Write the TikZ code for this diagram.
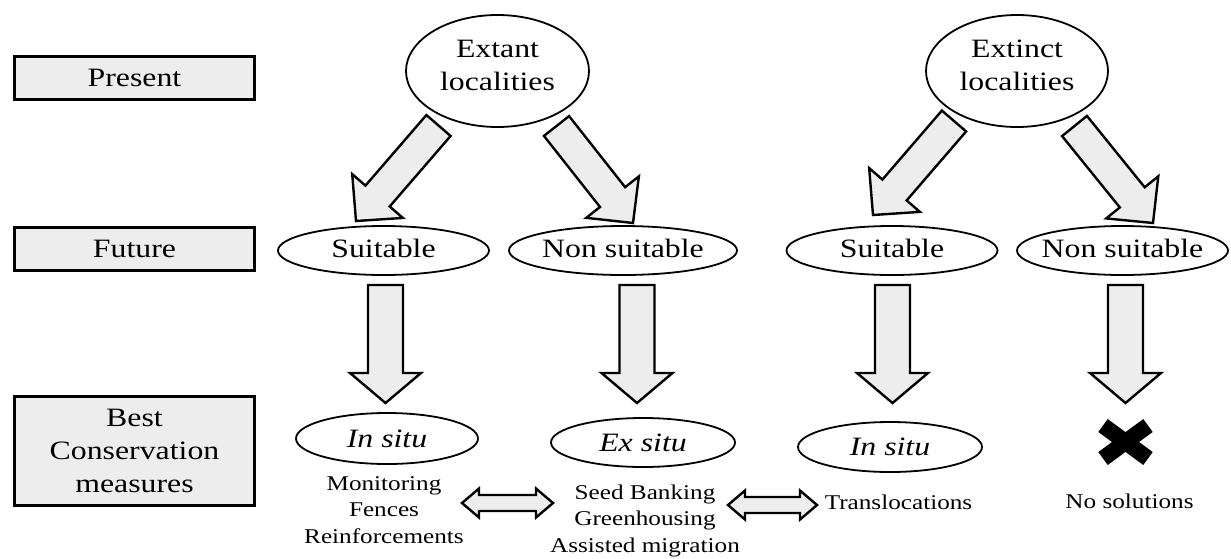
\documentclass[tikz,border=0pt]{standalone}
\usepackage{fontspec}
\setmainfont{Liberation Serif}[FakeStretch=1.2]
\usetikzlibrary{calc,shapes.geometric}
\definecolor{boxgray}{RGB}{237,237,237}
\newcommand\fntbig{\fontsize{26.5}{33}\selectfont}
\newcommand\fntsmall{\fontsize{21}{26.5}\selectfont}
% #1 tail, #2 tip, #3 half shaft width, #4 half head width, #5 head length
\newcommand\fatarrow[5]{%
  \coordinate (fabase) at ($(#2)!#5!(#1)$);
  \draw[fat] ($(#1)!#3!90:(#2)$) -- ($(fabase)!#3!90:(#2)$) -- ($(fabase)!#4!90:(#2)$)
    -- (#2) -- ($(fabase)!#4!-90:(#2)$) -- ($(fabase)!#3!-90:(#2)$)
    -- ($(#1)!#3!-90:(#2)$) -- cycle;}
% double-headed version: #1 and #2 are the two tips
\newcommand\fatdarrow[5]{%
  \coordinate (dba) at ($(#1)!#5!(#2)$);
  \coordinate (dbb) at ($(#2)!#5!(#1)$);
  \draw[fat] (#1) -- ($(dba)!#4!90:(#2)$) -- ($(dba)!#3!90:(#2)$)
    -- ($(dbb)!#3!-90:(#1)$) -- ($(dbb)!#4!-90:(#1)$) -- (#2)
    -- ($(dbb)!#4!90:(#1)$) -- ($(dbb)!#3!90:(#1)$)
    -- ($(dba)!#3!-90:(#2)$) -- ($(dba)!#4!-90:(#2)$) -- cycle;}
\begin{document}
\begin{tikzpicture}[x=1pt,y=-1pt,
  hdr/.style={draw, line width=3pt, fill=boxgray, minimum width=240pt,
    minimum height=43pt, inner sep=0pt, font=\fntbig, align=center},
  ell/.style={ellipse, draw, line width=1.8pt, fill=white, inner xsep=-20pt,
    inner ysep=0pt, font=\fntbig, align=center},
  lbl/.style={font=\fntsmall, align=center, inner sep=0pt},
  fat/.style={draw, line width=2.4pt, fill=boxgray, line join=miter}]
\useasboundingbox (0,0) rectangle (1231,558);

% row headers
\node[hdr] (present) at (134.5,78) {Present};
\node[hdr] (future) at (134.5,249) {Future};
\node[hdr, minimum height=109pt] (best) at (134.5,451) {Best\\Conservation\\measures};

% present
\node[ell, minimum width=183pt, minimum height=112pt, text depth=11pt] (ext) at (497.5,71) {Extant\\localities};
\node[ell, minimum width=182pt, minimum height=112pt, text depth=11pt] (exn) at (1017,71) {Extinct\\localities};

% future
\node[ell, minimum width=211pt, minimum height=49pt, text depth=5pt] (s1) at (383.5,250.5) {Suitable};
\node[ell, minimum width=228pt, minimum height=49pt, text depth=5pt] (n1) at (623,250.5) {Non suitable};
\node[ell, minimum width=211pt, minimum height=49pt, text depth=5pt] (s2) at (892,250.5) {Suitable};
\node[ell, minimum width=211pt, minimum height=49pt, text depth=5pt] (n2) at (1122.5,250.5) {Non suitable};

% measures
\node[ell, minimum width=182pt, minimum height=51pt] (is1) at (387,438.5) {\itshape In situ};
\node[ell, minimum width=184pt, minimum height=49pt] (ex) at (643,442.5) {\itshape Ex situ};
\node[ell, minimum width=184pt, minimum height=50pt] (is2) at (890,447) {\itshape In situ};
\node[minimum width=55pt, minimum height=46pt, inner sep=0pt] (x4) at (1125.5,442) {};
\draw[line width=16pt] ($(x4)+(-22.5,-16.5)$) -- ($(x4)+(22.5,16.5)$);
\draw[line width=16pt] ($(x4)+(-22.5,16.5)$) -- ($(x4)+(22.5,-16.5)$);

\node[lbl] (mon) at (384,510) {Monitoring\\Fences\\Reinforcements};
\node[lbl] (seed) at (645,520.7) {Seed Banking\\Greenhousing\\Assisted migration};
\node[lbl, anchor=base] (trans) at (898.5,509) {Translocations};
\node[lbl, anchor=base] (nosol) at (1129.5,508) {No solutions};

% diagonal arrows
\coordinate (a1a) at ($(ext)+(-59,54.5)$);  \coordinate (a1b) at ($(s1)+(-27.5,-29.5)$);
\coordinate (a2a) at ($(ext)+(59,55)$);     \coordinate (a2b) at ($(n1)+(10,-27.5)$);
\coordinate (a3a) at ($(exn)+(-63,50)$);    \coordinate (a3b) at ($(s2)+(-19,-35.5)$);
\coordinate (a4a) at ($(exn)+(57.5,55)$);   \coordinate (a4b) at ($(n2)+(30.5,-27.5)$);
\fatarrow{a1a}{a1b}{16pt}{33.5pt}{33pt}
\fatarrow{a2a}{a2b}{16pt}{33.5pt}{33pt}
\fatarrow{a3a}{a3b}{16pt}{33.5pt}{33pt}
\fatarrow{a4a}{a4b}{16pt}{33.5pt}{33pt}

% vertical arrows
\coordinate (v1a) at ($(s1)+(2,34.5)$);   \coordinate (v1b) at ($(is1)+(-1.5,-35.5)$);
\coordinate (v2a) at ($(n1)+(14,34.5)$);  \coordinate (v2b) at ($(ex)+(-6,-39.5)$);
\coordinate (v3a) at ($(s2)+(0.5,34.5)$); \coordinate (v3b) at ($(is2)+(2.5,-44)$);
\coordinate (v4a) at ($(n2)+(3,34.5)$);   \coordinate (v4b) at ($(x4)+(0,-39)$);
\fatarrow{v1a}{v1b}{17.5pt}{35.5pt}{30pt}
\fatarrow{v2a}{v2b}{17.5pt}{35.5pt}{30pt}
\fatarrow{v3a}{v3b}{17.5pt}{35.5pt}{30pt}
\fatarrow{v4a}{v4b}{17.5pt}{35.5pt}{30pt}

% double arrows
\coordinate (d1a) at ($(mon)+(78,-7)$);    \coordinate (d1b) at ($(seed)+(-92,-17.7)$);
\coordinate (d2a) at ($(seed)+(83,-15.7)$); \coordinate (d2b) at ($(trans)+(-81.5,3.2)$);
\fatdarrow{d1a}{d1b}{8pt}{14.5pt}{17pt}
\fatdarrow{d2a}{d2b}{8pt}{14.5pt}{17pt}
\end{tikzpicture}
\end{document}
